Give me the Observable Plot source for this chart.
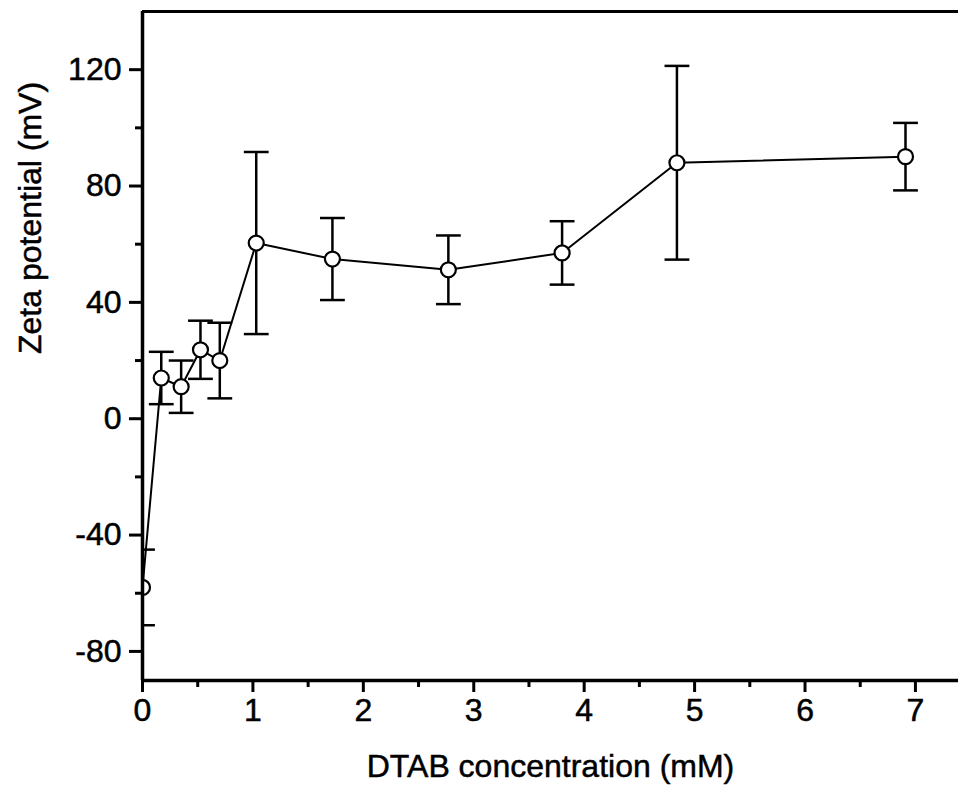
<!DOCTYPE html>
<html>
<head>
<meta charset="utf-8">
<script src="https://cdn.jsdelivr.net/npm/d3@7"></script>
<script src="https://cdn.jsdelivr.net/npm/@observablehq/plot@0.6"></script>
<style>
  html, body { margin: 0; padding: 0; background: #fff; }
  #chart svg { display: block; }
  #chart svg text { stroke: #000; stroke-width: 0.5px; }
</style>
</head>
<body>
<div id="chart"></div>
<script>
// DTAB concentration (mM)
const concentration = [0, 0.17, 0.35, 0.525, 0.70, 1.03, 1.72, 2.77, 3.80, 4.84, 6.91];
// Zeta potential (mV)
const zeta = [-58, 14, 11, 23.7, 20, 60.4, 54.9, 51.2, 57.0, 88.0, 90.1];
// error (± mV)
const errorBar = [13, 9, 9, 10, 13, 31.3, 14.1, 11.8, 10.9, 33.3, 11.6];

const xMajorTicks = [0, 1, 2, 3, 4, 5, 6, 7];
const xMinorTicks = [0.5, 1.5, 2.5, 3.5, 4.5, 5.5, 6.5];
const yMajorTicks = [-80, -40, 0, 40, 80, 120];
const yMinorTicks = [-60, -20, 20, 60, 100];
const xTitle = "DTAB concentration (mM)";
const yTitle = "Zeta potential (mV)";

const data = concentration.map((c, i) => ({
  x: c, y: zeta[i], lo: zeta[i] - errorBar[i], hi: zeta[i] + errorBar[i]
}));

const capSymbol = {
  draw(context, size) {
    const w = Math.sqrt(size);
    context.moveTo(-w, 0);
    context.lineTo(w, 0);
  }
};

const font = "'Liberation Sans', Arial, Helvetica, sans-serif";

const chart = Plot.plot({
  width: 958,
  height: 795,
  marginLeft: 142,
  marginRight: 0,
  marginTop: 11,
  marginBottom: 115,
  style: { fontFamily: font, fontSize: "32px", color: "#000", background: "#fff", overflow: "visible" },
  x: { domain: [0, 7.39] },
  y: { domain: [-90, 140] },
  marks: [
    // error bars
    Plot.ruleX(data, { x: "x", y1: "lo", y2: "hi", stroke: "#000", strokeWidth: 2.5 }),
    Plot.dot(data, { x: "x", y: "hi", symbol: capSymbol, r: 7, stroke: "#000", strokeWidth: 2.5, fill: "none", clip: "frame" }),
    Plot.dot(data, { x: "x", y: "lo", symbol: capSymbol, r: 7, stroke: "#000", strokeWidth: 2.5, fill: "none", clip: "frame" }),
    // connecting line
    Plot.line(data, { x: "x", y: "y", stroke: "#000", strokeWidth: 2 }),
    // points
    Plot.dot(data, { x: "x", y: "y", r: 7.5, stroke: "#000", strokeWidth: 2.2, fill: "#fff", clip: "frame" }),
    // axes lines / frame
    Plot.ruleX([0], { stroke: "#000", strokeWidth: 3.5 }),
    Plot.ruleY([-90], { stroke: "#000", strokeWidth: 3.5 }),
    Plot.ruleY([140], { stroke: "#000", strokeWidth: 3 }),
    // x axis
    Plot.axisX({ ticks: xMajorTicks, tickSize: 12, tickPadding: 6, strokeWidth: 3, fontSize: 32, label: null, tickFormat: d => String(d) }),
    Plot.axisX({ ticks: xMinorTicks, tickSize: 7, strokeWidth: 3, text: null, label: null }),
    // y axis
    Plot.axisY({ ticks: yMajorTicks, tickSize: 13, tickPadding: 8, strokeWidth: 3, fontSize: 32, label: null, tickFormat: d => String(d) }),
    Plot.axisY({ ticks: yMinorTicks, tickSize: 7, strokeWidth: 3, text: null, label: null }),
    // titles
    Plot.text([xTitle], { frameAnchor: "bottom", dy: 96, fontSize: 32, fill: "#000" }),
    Plot.text([yTitle], { frameAnchor: "left", dx: -112, dy: 8, rotate: -90, fontSize: 32, fill: "#000" })
  ]
});

document.getElementById("chart").appendChild(chart);
</script>
</body>
</html>
